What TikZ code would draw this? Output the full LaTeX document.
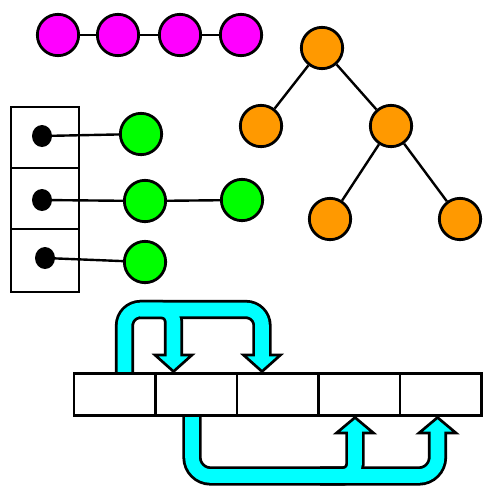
\documentclass[tikz,border=0pt]{standalone}
\usetikzlibrary{shapes.geometric,backgrounds}
\definecolor{nodemagenta}{RGB}{255,0,255}
\definecolor{nodegreen}{RGB}{0,255,0}
\definecolor{nodeorange}{RGB}{255,153,0}
\definecolor{flowcyan}{RGB}{0,255,255}
\begin{document}
\begin{tikzpicture}[x=0.75pt,y=-0.75pt,
  ball/.style={circle,draw=black,line width=2.1pt,minimum size=31pt,inner sep=0pt},
  link/.style={line width=1.8pt},
  cell/.style={rectangle,draw=black,line width=2pt,inner sep=0pt},
  pin/.style={ellipse,fill=black,inner sep=0pt,minimum width=15pt,minimum height=16.5pt},
  shaftout/.style={line width=14.4pt,draw=black},
  shaftin/.style={line width=10.2pt,draw=flowcyan},
  headtri/.style={fill=flowcyan,draw=black,line width=2pt,line join=miter}]

\useasboundingbox (0,0) rectangle (495,492);

% linked list
\node[ball,fill=nodemagenta] (m1) at (58,35) {};
\node[ball,fill=nodemagenta] (m2) at (118,35) {};
\node[ball,fill=nodemagenta] (m3) at (180,35) {};
\node[ball,fill=nodemagenta] (m4) at (241,35) {};
\draw[link] (m1) -- (m2) (m2) -- (m3) (m3) -- (m4);

% binary tree
\node[ball,fill=nodeorange] (r)   at (322,48) {};
\node[ball,fill=nodeorange] (tl)  at (261,126) {};
\node[ball,fill=nodeorange] (tr)  at (391,126) {};
\node[ball,fill=nodeorange] (tbl) at (330,219) {};
\node[ball,fill=nodeorange] (tbr) at (460,219) {};
\draw[link] (r) -- (tl) (r) -- (tr) (tr) -- (tbl) (tr) -- (tbr);

% bucket table with chains
\node[cell,minimum width=51pt,minimum height=45.75pt] (c1) at (45,137.5) {};
\node[cell,minimum width=51pt,minimum height=45.75pt] (c2) at (45,198.5) {};
\node[cell,minimum width=51pt,minimum height=47.25pt] (c3) at (45,260.5) {};
\node[pin] (d1) at (42,136) {};
\node[pin] (d2) at (42,200) {};
\node[pin] (d3) at (45,258) {};
\node[ball,fill=nodegreen] (g1) at (141,134) {};
\node[ball,fill=nodegreen] (g2) at (145,201) {};
\node[ball,fill=nodegreen] (g3) at (242,200) {};
\node[ball,fill=nodegreen] (g4) at (145,262) {};
\draw[link] (d1.center) -- (g1) (d2.center) -- (g2) (g2) -- (g3) (d3.center) -- (g4);

% array
\foreach \i/\cx in {1/114.75,2/196.25,3/277.75,4/359.25,5/440.75}
  \node[cell,minimum width=61.1pt,minimum height=31.8pt] (a\i) at (\cx,394.5) {};

% fat arrows between array cells
\begin{scope}[on background layer]
  % outlines
  \draw[shaftout,rounded corners=12pt] (124.5,0 |- a1.north) -- (124.5,309.5) -- (262,309.5) -- (262,355);
  \draw[shaftout,rounded corners=9pt] (140,309.5) -- (173.5,309.5) -- (173.5,355);
  \draw[shaftout,rounded corners=14pt] (192,0 |- a2.south) -- (192,476) -- (437.5,476) -- (437.5,433);
  \draw[shaftout,rounded corners=9pt] (320,476) -- (355,476) -- (355,433);
  % heads
  \draw[headtri] (243.5,355) -- (280.5,355) -- (262,371.5) -- cycle;
  \draw[headtri] (155,355) -- (192,355) -- (173.5,371.5) -- cycle;
  \draw[headtri] (419,433) -- (456,433) -- (437.5,417.5) -- cycle;
  \draw[headtri] (336.5,433) -- (373.5,433) -- (355,417.5) -- cycle;
  % fills
  \draw[shaftin,rounded corners=12pt] (124.5,0 |- a1.north) -- (124.5,309.5) -- (262,309.5) -- (262,357.5);
  \draw[shaftin,rounded corners=9pt] (140,309.5) -- (173.5,309.5) -- (173.5,357.5);
  \draw[shaftin,rounded corners=14pt] (192,0 |- a2.south) -- (192,476) -- (437.5,476) -- (437.5,430.5);
  \draw[shaftin,rounded corners=9pt] (320,476) -- (355,476) -- (355,430.5);
\end{scope}
\end{tikzpicture}
\end{document}
